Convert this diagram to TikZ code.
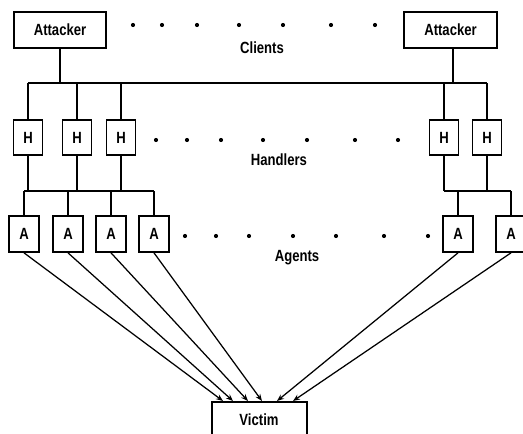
\documentclass[tikz,border=0pt]{standalone}
\usepackage{fontspec}
\usepackage{graphicx}
\setmainfont{Liberation Sans}
\usetikzlibrary{arrows.meta}
% slightly narrow, tall lettering
\newcommand\tallt[1]{\scalebox{0.97}[1.2]{#1}}
\begin{document}
\begin{tikzpicture}[x=1pt,y=-1pt,
  box/.style={draw,line width=1.7pt,fill=white,inner sep=0pt,font=\fontsize{13.5}{15}\selectfont\bfseries},
  bigbox/.style={box,minimum width=92pt,minimum height=36pt},
  hbox/.style={box,minimum width=29pt,minimum height=35pt},
  abox/.style={box,minimum width=30pt,minimum height=36pt},
  lbl/.style={font=\fontsize{13.5}{15}\selectfont\bfseries},
  wire/.style={line width=1.5pt},
  hit/.style={line width=1.25pt,-{Stealth[length=7pt,width=5.5pt]}},
  dot/.style={circle,fill=black,inner sep=0pt,minimum size=4.2pt}]
\useasboundingbox (0,0) rectangle (523,434);
\begin{scope}
\clip (0,0) rectangle (523,434);

% attackers (clients)
\node[bigbox] (att1) at (60,30) {\tallt{Attacker}};
\node[bigbox,minimum width=93pt] (att2) at (450.5,30) {\tallt{Attacker}};
\foreach \x [count=\i] in {133,162,197,239,283,331,375}
  \node[dot] (cd\i) at (\x,25) {};
\node[lbl] (clients) at (262,48) {\tallt{Clients}};

% handlers
\foreach \x [count=\i] in {28,77,121,444,487}
  \node[hbox] (h\i) at (\x,137.5) {\tallt{H}};
\foreach \x [count=\i] in {156,187,221,263,307,355,398}
  \node[dot] (hd\i) at (\x,140) {};
\node[lbl] (handlers) at (279,160) {\tallt{Handlers}};

% agents
\foreach \x [count=\i] in {24,68,111,154,458,511}
  \node[abox] (a\i) at (\x,234) {\tallt{A}};
\foreach \x [count=\i] in {185,216,249,293,336,384,428}
  \node[dot] (ad\i) at (\x,236) {};
\node[lbl] (agents) at (297,258) {\tallt{Agents}};

% victim
\node[box,minimum width=95pt,minimum height=40pt] (victim) at (259.5,422) {};
\node[lbl] (vlabel) at (259,420) {\tallt{Victim}};

% client bus to handlers
\coordinate (busL) at (28,83);
\coordinate (busR) at (487,83);
\draw[wire] (busL) -- (busR);
\draw[wire] (att1.south) -- (att1.south |- busL);
\draw[wire] ([xshift=2.5pt]att2.south) -- ([xshift=2.5pt]att2.south |- busR);
\foreach \i in {1,...,5}
  \draw[wire] (h\i.north) -- (h\i.north |- busL);

% handler buses to agents
\coordinate (lbL) at (24,191);
\coordinate (lbR) at (154,191);
\coordinate (rbL) at (444,191);
\coordinate (rbR) at (511,191);
\draw[wire] (lbL) -- (lbR);
\draw[wire] (rbL) -- (rbR);
\foreach \i in {1,2,3}
  \draw[wire] (h\i.south) -- (h\i.south |- lbL);
\foreach \i in {4,5}
  \draw[wire] (h\i.south) -- (h\i.south |- rbL);
\foreach \i in {1,...,4}
  \draw[wire] (a\i.north) -- (a\i.north |- lbL);
\foreach \i in {5,6}
  \draw[wire] (a\i.north) -- (a\i.north |- rbL);

% attack flows into the victim
\foreach \x [count=\i] in {223,233,248,262,277,293}
  \coordinate (v\i) at (\x,401);
\foreach \i in {1,...,6}
  \draw[hit] (a\i.south) -- (v\i);
\end{scope}
\end{tikzpicture}
\end{document}
